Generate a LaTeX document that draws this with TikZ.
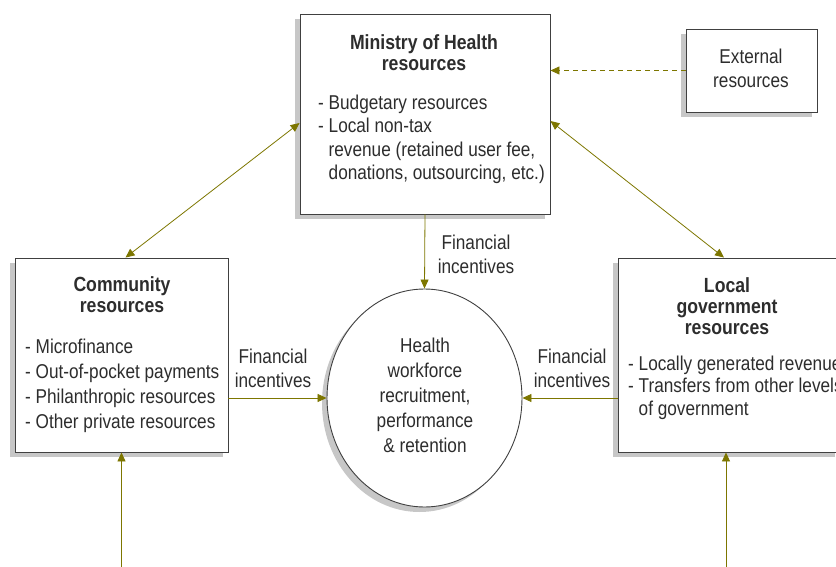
\documentclass[tikz,border=0pt]{standalone}
\usepackage{fontspec}
\setmainfont{Liberation Sans}[FakeStretch=0.86]
\usetikzlibrary{arrows.meta,shapes.geometric,shadows}
\definecolor{olivearrow}{RGB}{125,118,0}
\definecolor{boxtext}{RGB}{45,45,45}

\begin{document}
\begin{tikzpicture}[x=1pt,y=-1pt]
\tikzset{box/.style={draw=black!75,fill=white,line width=0.9pt,inner sep=0pt,
    drop shadow={shadow xshift=-5pt,shadow yshift=-5pt,fill=black!22,opacity=1}},
  txt/.style={text=boxtext,inner sep=0pt,font=\fontsize{20}{24}\selectfont},
  head/.style={txt,align=center,font=\bfseries\fontsize{20.5}{21}\selectfont},
  flow/.style={draw=olivearrow,line width=0.8pt,-{Triangle[length=9pt,width=8pt]}},
  both/.style={flow,{Triangle[length=9pt,width=8pt]}-{Triangle[length=9pt,width=8pt]}}}

\useasboundingbox (0,0) rectangle (836,567);
\clip (0,0) rectangle (836,567);

% boxes
\node[box,minimum width=250pt,minimum height=200pt] (moh) at (425,114) {};
\node[box,minimum width=131pt,minimum height=83pt] (ext) at (751.5,70.5) {};
\node[box,minimum width=213pt,minimum height=194pt] (comm) at (121.5,355) {};
\node[box,minimum width=222pt,minimum height=194pt] (lgov) at (729,355) {};
\node[box,ellipse,minimum width=195pt,minimum height=218pt] (hw) at (424.5,398) {};

% texts (base = last line)
\node[head,anchor=base] (mohT) at (424,71) {Ministry of Health\\resources};
\node[txt,align=left,anchor=base west,font=\fontsize{20}{23.5}\selectfont] (mohL) at (318,180)
  {- Budgetary resources\\- Local non-tax\\\hphantom{- }revenue (retained user fee,\\\hphantom{- }donations, outsourcing, etc.)};
\node[txt,align=center,anchor=base] (extT) at (751,88) {External\\resources};
\node[head,anchor=base] (commT) at (122,312) {Community\\resources};
\node[txt,align=left,anchor=base west,font=\fontsize{20}{25}\selectfont] (commL) at (25,428)
  {- Microfinance\\- Out-of-pocket payments\\- Philanthropic resources\\- Other private resources};
\node[head,anchor=base] (lgovT) at (727,334) {Local\\government\\resources};
\node[txt,align=left,anchor=base west,font=\fontsize{20}{22.5}\selectfont] (lgovL) at (628,415)
  {- Locally generated revenue\\- Transfers from other levels\\\hphantom{- }of government};
\node[txt,align=center,anchor=base,font=\fontsize{20}{25}\selectfont] (hwT) at (425,452)
  {Health\\workforce\\recruitment,\\performance\\\& retention};

% flows
\draw[flow] (moh.south) -- (hw.north);
\node[txt,align=center,anchor=base] (fiTop) at (476,273) {Financial\\incentives};
\draw[flow] (comm.east |- hw.west) -- (hw.west);
\node[txt,align=center,anchor=base] (fiLeft) at (273,387) {Financial\\incentives};
\draw[flow] (lgov.west |- hw.east) -- (hw.east);
\node[txt,align=center,anchor=base] (fiRight) at (572,387) {Financial\\incentives};

\draw[both] ([xshift=4pt]comm.north) -- ([yshift=-9pt]moh.west);
\draw[both] ([yshift=-7pt]moh.east) -- ([xshift=-5pt]lgov.north);
\draw[flow,dash pattern=on 5pt off 4pt] (ext.west) -- (ext.west -| moh.east);

\coordinate (commIn) at (121.5,575);
\coordinate (lgovIn) at (726,575);
\draw[flow] (commIn) -- (comm.south);
\draw[flow] (lgovIn) -- (lgovIn |- lgov.south);
\end{tikzpicture}
\end{document}
